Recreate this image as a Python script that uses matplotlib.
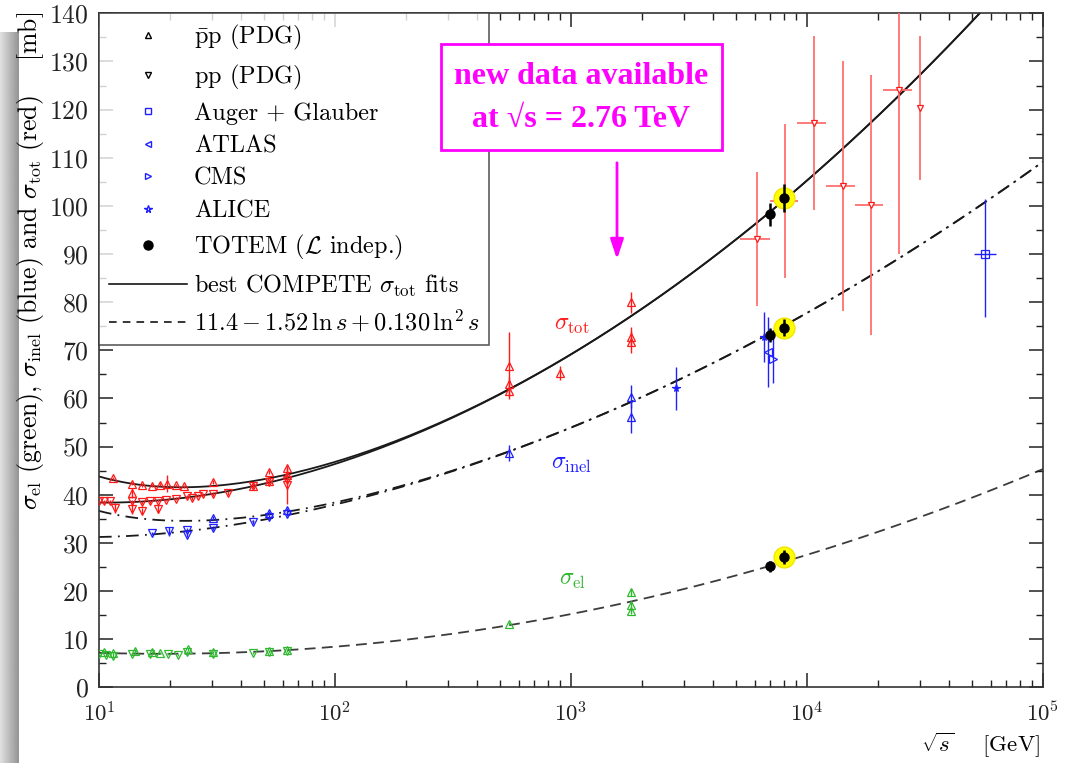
import numpy as np
import matplotlib
matplotlib.use("Agg")
import matplotlib.pyplot as plt
from matplotlib.lines import Line2D
from matplotlib.patches import Rectangle
from matplotlib.ticker import MultipleLocator, LogLocator

plt.rcParams['font.family'] = ['cmr10', 'DejaVu Serif']
plt.rcParams['mathtext.fontset'] = 'cm'
plt.rcParams['axes.formatter.use_mathtext'] = True

# ---- data (sqrt(s) in GeV, sigma in mb) ----
# sigma_tot, pbar-p (PDG)
tot_ppbar_x = [11.5, 13.8, 13.8, 15.2, 16.7, 18.1, 19.4, 21.3, 22.9, 30.4, 45.0, 52.6, 52.6, 62.7, 62.7,
               546, 546, 546, 900, 1800, 1800, 1800]
tot_ppbar_y = [43.4, 42.3, 40.3, 42.0, 41.9, 42.1, 42.3, 42.0, 41.8, 42.7, 41.9, 44.8, 42.9, 45.5, 44.0,
               66.8, 63.0, 61.5, 65.3, 80.0, 72.8, 71.7]
tot_ppbar_e = [0.3, 0.3, 1.0, 0.3, 0.3, 0.3, 1.7, 0.3, 0.3, 0.4, 0.5, 0.4, 0.4, 0.5, 0.4,
               7.0, 1.5, 1.0, 1.5, 2.2, 2.0, 2.3]
# sigma_tot, pp (PDG)
tot_pp_x = [10.0, 10.5, 11.1, 11.7, 13.8, 13.8, 15.2, 15.2, 16.4, 17.8, 17.8, 19.3, 21.3, 23.5, 24.8,
            26.3, 27.7, 30.5, 35.3, 45.0, 52.6, 62.5, 62.5]
tot_pp_y = [38.6, 38.6, 38.7, 37.3, 38.6, 37.0, 38.4, 36.6, 38.6, 38.8, 37.0, 38.9, 39.2, 39.7, 39.3,
            39.8, 40.1, 40.2, 40.3, 41.8, 42.6, 43.0, 42.0]
tot_pp_e = [0.3, 0.3, 0.3, 1.0, 0.3, 1.0, 0.3, 0.6, 0.3, 0.3, 0.8, 0.3, 0.3, 0.3, 0.3,
            0.3, 0.3, 0.4, 0.4, 0.5, 0.4, 0.4, 4.0]
# sigma_inel
inel_ppbar_x = [30.4, 52.6, 62.7, 546, 1800, 1800]
inel_ppbar_y = [35.1, 36.2, 36.8, 48.7, 60.4, 56.2]
inel_ppbar_e = [0.4, 0.4, 0.5, 1.7, 2.4, 3.4]
inel_pp_x = [16.7, 19.8, 23.5, 23.5, 30.5, 45.0, 52.6, 62.5]
inel_pp_y = [32.0, 32.4, 32.7, 31.7, 33.1, 34.4, 35.4, 36.0]
inel_pp_e = [0.3, 0.9, 0.3, 0.5, 0.4, 0.4, 0.4, 0.5]
# sigma_el
el_ppbar_x = [10.5, 11.5, 14.2, 16.7, 18.1, 23.8, 30.4, 52.6, 62.7, 546, 1800, 1800, 1800]
el_ppbar_y = [7.3, 7.1, 7.6, 7.4, 7.2, 7.9, 7.3, 7.6, 7.7, 13.2, 19.7, 17.0, 15.8]
el_ppbar_e = [0.2, 0.2, 0.4, 0.2, 0.2, 0.3, 0.2, 0.2, 0.2, 0.3, 0.8, 0.9, 0.6]
el_pp_x = [10.0, 10.7, 11.5, 13.8, 16.4, 19.6, 21.6, 23.5, 30.5, 45.0, 52.6, 62.5]
el_pp_y = [7.0, 6.8, 6.6, 7.0, 7.0, 6.9, 6.8, 7.3, 7.0, 7.2, 7.4, 7.6]
el_pp_e = [0.2, 0.3, 0.5, 0.2, 0.2, 0.2, 0.2, 0.3, 0.2, 0.2, 0.2, 0.2]
# cosmic-ray sigma_tot (red, with energy bins)
cr_x = [6150, 8080, 10740, 14260, 18660, 24500, 30000]
cr_y = [93.1, 101.1, 117.2, 104.1, 100.2, 124.1, 120.3]
cr_e = [14, 16, 18, 26, 27, 34, 15]
cr_lo = [5210, 6970, 9100, 12000, 16000, 21000, 30000]
cr_hi = [6970, 9200, 12000, 16000, 21000, 27800, 30000]
# LHC / Auger inelastic
auger_x, auger_y, auger_dn, auger_up, auger_lo, auger_hi = 57000, 90.0, 13.0, 11.4, 51000, 63000
atlas_x, atlas_y, atlas_e = [6850], [69.6], [7.3]
cms_x, cms_y, cms_e = [7200], [68.1], [4.8]
alice_x, alice_y, alice_e = [2780, 6600], [62.1, 72.8], [4.5, 5.2]
# TOTEM (7 and 8 TeV): tot, inel, el
totem7_y, totem7_e = [98.3, 73.2, 25.1], [2.4, 1.5, 1.1]
totem8_y, totem8_e = [101.7, 74.7, 27.1], [2.9, 1.7, 1.4]

# fit parameters (COMPETE total, elastic parametrisation from legend)
Z, B, s0 = 35.45, 0.308, 5.38 ** 2
Y1, eta1, Y2, eta2 = 42.53, 0.458, 33.34, 0.545
a_el, b_el, c_el = 11.4, -1.52, 0.130

RED, RED_L = '#ff1a1a', '#ff7070'
BLUE, GREEN = '#2020ff', '#30b830'

fig = plt.figure(figsize=(10.66, 7.63), dpi=100)
ax = fig.add_axes([99 / 1066, 1 - 687.3 / 763, 944 / 1066, 674 / 763])

# fits
rs = np.logspace(1, 5, 600)
s = rs ** 2
L2 = np.log(s / s0) ** 2
tot_pp = Z + B * L2 + Y1 * s ** -eta1 - Y2 * s ** -eta2
tot_pb = Z + B * L2 + Y1 * s ** -eta1 + Y2 * s ** -eta2
el = a_el + b_el * np.log(s) + c_el * np.log(s) ** 2
lc = '#1a1a1a'
ax.plot(rs, tot_pp, color=lc, lw=1.3, zorder=2)
ax.plot(rs, tot_pb, color=lc, lw=1.3, zorder=2)
ax.plot(rs, tot_pp - el, color=lc, lw=1.3, ls=(0, (7, 3.5, 1, 3.5)), zorder=2)
ax.plot(rs, tot_pb - el, color=lc, lw=1.3, ls=(0, (7, 3.5, 1, 3.5)), zorder=2)
ax.plot(rs, el, color=lc, lw=1.3, ls=(0, (6, 3.5)), alpha=0.85, zorder=2)

mk = dict(ms=5.5, mfc='none', mew=0.9, capsize=0, elinewidth=1.0, ls='none', zorder=3)
ax.errorbar(tot_ppbar_x, tot_ppbar_y, yerr=tot_ppbar_e, fmt='^', color=RED, ecolor=RED, **mk)
ax.errorbar(tot_pp_x, tot_pp_y, yerr=tot_pp_e, fmt='v', color=RED, ecolor=RED, **mk)
ax.errorbar(inel_ppbar_x, inel_ppbar_y, yerr=inel_ppbar_e, fmt='^', color=BLUE, ecolor=BLUE, **mk)
ax.errorbar(inel_pp_x, inel_pp_y, yerr=inel_pp_e, fmt='v', color=BLUE, ecolor=BLUE, **mk)
ax.errorbar(el_ppbar_x, el_ppbar_y, yerr=el_ppbar_e, fmt='^', color=GREEN, ecolor=GREEN, **mk)
ax.errorbar(el_pp_x, el_pp_y, yerr=el_pp_e, fmt='v', color=GREEN, ecolor=GREEN, **mk)

cr_xerr = [np.array(cr_x) - np.array(cr_lo), np.array(cr_hi) - np.array(cr_x)]
ax.errorbar(cr_x, cr_y, yerr=cr_e, xerr=cr_xerr, fmt='v', color=RED, ecolor=RED_L,
            ms=5, mfc='white', mew=0.9, capsize=0, elinewidth=1.3, ls='none', zorder=3)

ax.errorbar([auger_x], [auger_y], yerr=[[auger_dn], [auger_up]],
            xerr=[[auger_x - auger_lo], [auger_hi - auger_x]], fmt='s', color=BLUE, **mk)
ax.errorbar(atlas_x, atlas_y, yerr=atlas_e, fmt='<', color=BLUE, **mk)
ax.errorbar(cms_x, cms_y, yerr=cms_e, fmt='>', color=BLUE, **mk)
ax.errorbar(alice_x, alice_y, yerr=alice_e, fmt='*', color=BLUE, **mk)

ax.errorbar([7000] * 3, totem7_y, yerr=totem7_e, fmt='o', color='black', ms=6.5,
            elinewidth=1.8, capsize=0, ls='none', zorder=5)
ax.plot([8000] * 3, totem8_y, 'o', color='#ffff00', ms=15, mec='#f2e600', zorder=4)
ax.errorbar([8000] * 3, totem8_y, yerr=totem8_e, fmt='o', color='black', ms=6.5,
            elinewidth=1.8, capsize=0, ls='none', zorder=5)

# curve labels
ax.text(1010, 75.3, r'$\sigma_{\rm tot}$', color=RED, fontsize=17, ha='center', va='center')
ax.text(1000, 46.3, r'$\sigma_{\rm inel}$', color=BLUE, fontsize=17, ha='center', va='center')
ax.text(1010, 22.2, r'$\sigma_{\rm el}$', color=GREEN, fontsize=17, ha='center', va='center')

ax.set_xscale('log')
ax.set_xlim(10, 1e5)
ax.set_ylim(0, 140)
ax.yaxis.set_major_locator(MultipleLocator(10))
ax.yaxis.set_minor_locator(MultipleLocator(5))
ax.xaxis.set_major_locator(LogLocator(base=10, numticks=10))
ax.xaxis.set_minor_locator(LogLocator(base=10, subs=np.arange(2, 10), numticks=20))
ax.tick_params(which='both', direction='in', top=True, right=True, labelsize=16.5, colors='#222222')
ax.tick_params(which='major', length=10, width=1.1)
ax.tick_params(which='minor', length=5, width=1.0)
ax.tick_params(axis='x', which='major', pad=10)
ax.tick_params(axis='y', which='major', pad=7.5, labelsize=18.5)
for sp in ax.spines.values():
    sp.set_color('#333333')
    sp.set_linewidth(1.2)

# legend
h = [Line2D([], [], marker='^', color='black', mfc='none', ls='none', ms=4.5),
     Line2D([], [], marker='v', color='black', mfc='none', ls='none', ms=4.5),
     Line2D([], [], marker='s', color=BLUE, mfc='none', ls='none', ms=4),
     Line2D([], [], marker='<', color=BLUE, mfc='none', ls='none', ms=4.5),
     Line2D([], [], marker='>', color=BLUE, mfc='none', ls='none', ms=4.5),
     Line2D([], [], marker='*', color=BLUE, mfc='none', ls='none', ms=5.5),
     Line2D([], [], marker='o', color='black', ls='none', ms=6.5),
     Line2D([], [], color='black', lw=1.1),
     Line2D([], [], color='black', lw=1.1, ls=(0, (5, 4)))]
labels = [r'$\bar{\rm p}{\rm p}$ (PDG)', r'${\rm pp}$ (PDG)', 'Auger + Glauber', 'ATLAS', 'CMS', 'ALICE',
          r'TOTEM ($\mathcal{L}$ indep.)', r'best COMPETE $\sigma_{\rm tot}$ fits',
          r'$11.4 - 1.52\,\ln s + 0.130\,\ln^2 s$']
leg = ax.legend(h, labels, loc='upper left', bbox_to_anchor=(0, 1), borderaxespad=0, fontsize=17.5,
                frameon=True, fancybox=False, edgecolor='#333333', handlelength=3.2,
                handletextpad=0.3, labelspacing=0.43, borderpad=0.4)
leg.get_frame().set_linewidth(1.2)
leg.set_zorder(6)

# y and x axis titles
fig.text(31 / 1066, 1 - 12 / 763,
         r'$\sigma_{\rm el}$ (green), $\sigma_{\rm inel}$ (blue) and $\sigma_{\rm tot}$ (red)    [mb]',
         rotation=90, ha='center', va='top', fontsize=18.5)
fig.text(1040 / 1066, 1 - 745 / 763, r'$\sqrt{s}$    [GeV]', ha='right', va='center', fontsize=16.5)

# magenta note
fig.add_artist(Rectangle((441 / 1066, 1 - 150 / 763), 281 / 1066, 106 / 763, transform=fig.transFigure,
                         fill=True, fc='white', ec='#ff00ff', lw=2, zorder=7))
fig.text(581 / 1066, 1 - 76 / 763, 'new data available', color='#ff00ff', fontsize=23,
         fontweight='bold', family='Liberation Serif', ha='center', va='center', zorder=8)
fig.text(581 / 1066, 1 - 119 / 763, 'at \u221as = 2.76 TeV', color='#ff00ff', fontsize=23,
         fontweight='bold', family='Liberation Serif', ha='center', va='center', zorder=8)
ax.annotate('', xy=((617 - 99) / 944, (687.3 - 262) / 674), xytext=((617 - 99) / 944, (687.3 - 160) / 674),
            xycoords='axes fraction', textcoords='axes fraction',
            arrowprops=dict(arrowstyle='-|>,head_width=0.4,head_length=1.2', color='#ff00ff', lw=2))

# slide shadow along the left edge
sh = fig.add_axes([0, 0, 19 / 1066, 1 - 32 / 763])
grad = np.linspace(0.88, 0.58, 40)[None, :]
sh.imshow(np.repeat(grad, 10, axis=0), cmap='gray', vmin=0, vmax=1, aspect='auto')
sh.axis('off')

fig.savefig('out.png', dpi=100)
